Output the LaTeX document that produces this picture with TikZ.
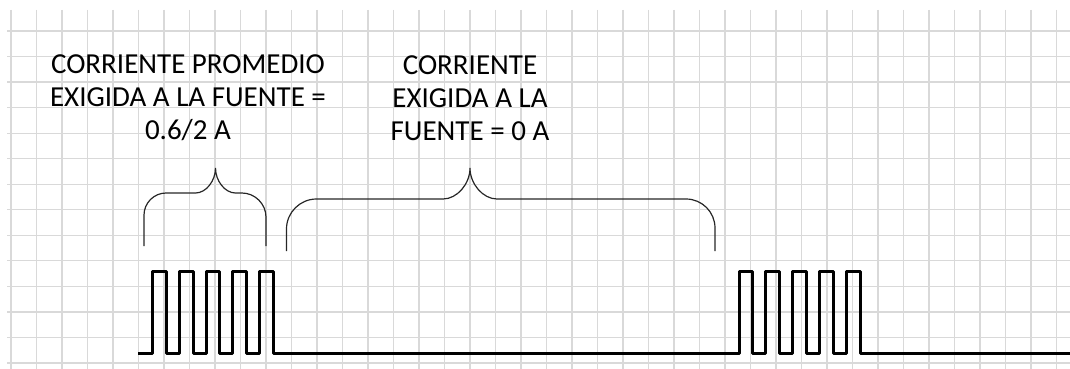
\documentclass[tikz,border=0pt]{standalone}
\usepackage{fontspec}
\setmainfont{Carlito}

\begin{document}
\begin{tikzpicture}[x=0.5pt, y=-0.5pt,
  gridline/.style={black!15, line width=0.6pt},
  wave/.style={line width=1.5pt, line join=round},
  curly/.style={line width=0.6pt, black!85},
  txt/.style={align=center, inner sep=0pt, font=\fontsize{14.5}{16.5}\selectfont}]
\useasboundingbox (0,0) rectangle (1070,369);
% grid
\foreach \k in {0,...,41} \draw[gridline] ({11+25.5*\k},10) -- ({11+25.5*\k},369);
\foreach \k in {0,...,13} \draw[gridline] (7,{31+25.54*\k}) -- (1070,{31+25.54*\k});
% labels
\node[txt, anchor=north] (avg) at (188,54) {CORRIENTE PROMEDIO\\EXIGIDA A LA FUENTE =\\0.6/2 A};
\node[txt, anchor=north] (zero) at (470,55) {CORRIENTE\\EXIGIDA A LA\\FUENTE = 0 A};
% braces
\draw[curly] (144,246) -- (144,215) .. controls (144,203) and (154,193) .. (166,193) -- (195.5,193)
  .. controls (206,193) and (215.5,181) .. (215.5,168) .. controls (215.5,181) and (225,193) .. (235.5,193)
  -- (242,193) .. controls (255,193) and (266,204) .. (266,217) -- (266,246);
\draw[curly] (286.5,251) -- (286.5,229) .. controls (286.5,212.5) and (300,199) .. (316.5,199) -- (443,199)
  .. controls (457,199) and (470,184) .. (470,168) .. controls (470,184) and (483,199) .. (497,199)
  -- (686,199) .. controls (702,199) and (715,212) .. (715,228) -- (715,251);
% pulses
\draw[wave] (138,353)
  \foreach \s in {152.5,179.3,206.1,232.9,259.7} { -- (\s,353) -- (\s,271) -- ({\s+13.8},271) -- ({\s+13.8},353) }
  -- (739,353)
  \foreach \s in {739,765.8,792.6,819.4,846.2} { -- (\s,353) -- (\s,271) -- ({\s+13.8},271) -- ({\s+13.8},353) }
  -- (1070,353);
\end{tikzpicture}
\end{document}
